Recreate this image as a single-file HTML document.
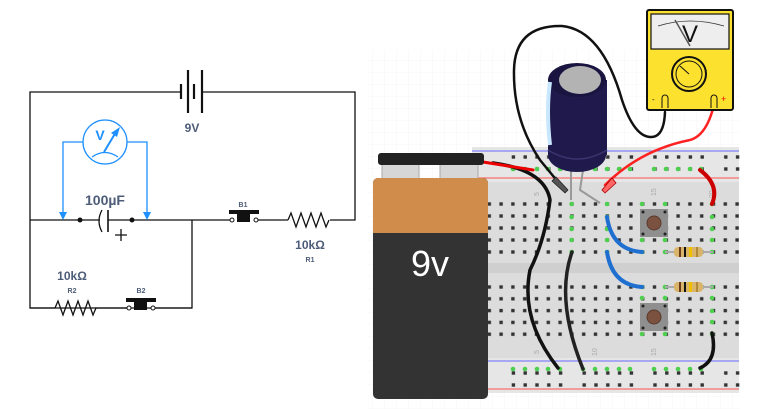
<!DOCTYPE html>
<html><head><meta charset="utf-8"><style>
html,body{margin:0;padding:0;background:#fff;}
svg{display:block;}
text{font-family:"Liberation Sans","DejaVu Sans",sans-serif;}
</style></head><body>
<svg width="763" height="409" viewBox="0 0 763 409" xmlns="http://www.w3.org/2000/svg">
<defs>
<pattern id="grid" x="0" y="0" width="12" height="12" patternUnits="userSpaceOnUse">
<path d="M12 0H0V12" fill="none" stroke="#f0f0f0" stroke-width="0.6"/>
</pattern>
<pattern id="holes" x="483.4" y="198" width="11.8" height="12" patternUnits="userSpaceOnUse">
<rect x="4.2" y="4.3" width="3.4" height="3.4" fill="#333"/>
</pattern>
<pattern id="holes2" x="483.4" y="281" width="11.8" height="11.8" patternUnits="userSpaceOnUse">
<rect x="4.2" y="4.3" width="3.4" height="3.4" fill="#333"/>
</pattern>
<pattern id="rail" x="507.5" y="151" width="70.8" height="12" patternUnits="userSpaceOnUse">
<rect x="4.2" y="4.3" width="3.4" height="3.4" fill="#333"/><rect x="16" y="4.3" width="3.4" height="3.4" fill="#333"/><rect x="27.8" y="4.3" width="3.4" height="3.4" fill="#333"/><rect x="39.6" y="4.3" width="3.4" height="3.4" fill="#333"/><rect x="51.4" y="4.3" width="3.4" height="3.4" fill="#333"/>
</pattern>
</defs>

<!-- ===== Schematic ===== -->
<g fill="none" stroke="#111" stroke-width="1.3">
<path d="M181 92H30V308H192V220"/>
<path d="M202 92H355V220H330"/>
<path d="M30 220H80M132 220H230M258 220H288"/>
<path d="M55 308H30M95 308H127M155 308H192"/>
<path d="M288 220l3 -7 5 14 5 -14 5 14 5 -14 5 14 5 -14 5 14 3 -7" />
<path d="M55 308l3 -7 5 14 5 -14 5 14 5 -14 5 14 5 -14 5 14 3 -7" />
<path d="M80 220H100M108 220H132"/>
<path d="M102 210Q96 221 102 232"/>
<path d="M108 210V232" stroke-width="1.6"/>
<path d="M115 235H127M121 229V241"/>
</g>
<g stroke="#111" stroke-linecap="butt">
<line x1="181" y1="84" x2="181" y2="99" stroke-width="2.2"/>
<line x1="188" y1="70" x2="188" y2="113" stroke-width="2.2"/>
<line x1="194" y1="84" x2="194" y2="99" stroke-width="2.2"/>
<line x1="202" y1="70" x2="202" y2="113" stroke-width="2.2"/>
</g>
<circle cx="80" cy="220" r="2.5" fill="#111"/>
<circle cx="132" cy="220" r="2.5" fill="#111"/>
<g>
<rect x="229" y="210" width="30" height="4" fill="#111"/>
<rect x="237" y="212" width="13" height="10" fill="#111"/>
<circle cx="232" cy="220" r="2" fill="#fff" stroke="#111" stroke-width="1"/>
<circle cx="256" cy="220" r="2" fill="#fff" stroke="#111" stroke-width="1"/>
</g>
<g>
<rect x="126" y="298" width="30" height="4" fill="#111"/>
<rect x="134" y="300" width="13" height="10" fill="#111"/>
<circle cx="129" cy="308" r="2" fill="#fff" stroke="#111" stroke-width="1"/>
<circle cx="153" cy="308" r="2" fill="#fff" stroke="#111" stroke-width="1"/>
</g>
<g stroke="#1e90ff" fill="none" stroke-width="1.3">
<circle cx="105" cy="142" r="22" fill="#fff"/>
<path d="M83 142H63V213M127 142H147V213"/>
<path d="M92 157Q105 148 118 157"/>
<path d="M104 152L116 132" stroke-width="2"/>
</g>
<path d="M120 127L117 137 111 133Z" fill="#1e90ff"/>
<path d="M59 212H67L63 220Z M143 212H151L147 220Z" fill="#1e90ff"/>
<text x="100" y="140" font-size="14" font-weight="bold" fill="#1e90ff" text-anchor="middle">V</text>
<g fill="#4d5c78" font-weight="bold" text-anchor="middle">
<text x="192" y="132" font-size="12">9V</text>
<text x="105" y="205" font-size="14">100µF</text>
<text x="243" y="207" font-size="7">B1</text>
<text x="310" y="249" font-size="12">10kΩ</text>
<text x="310" y="262" font-size="7">R1</text>
<text x="72" y="280" font-size="12">10kΩ</text>
<text x="72" y="293" font-size="7">R2</text>
<text x="141" y="293" font-size="7">B2</text>
</g>

<!-- ===== Breadboard area ===== -->
<rect x="368" y="50" width="372" height="359" fill="url(#grid)"/>
<rect x="472" y="147" width="267" height="246" fill="#dcdcdc"/>
<rect x="472" y="147" width="267" height="35" fill="#e6e6e6"/>
<rect x="472" y="358" width="267" height="35" fill="#e6e6e6"/>
<rect x="472" y="263" width="267" height="10" fill="#cfcfcf"/>
<line x1="472" y1="151" x2="739" y2="151" stroke="#6b6bff" stroke-width="1"/>
<line x1="472" y1="178" x2="739" y2="178" stroke="#ff5050" stroke-width="1"/>
<line x1="472" y1="361" x2="739" y2="361" stroke="#6b6bff" stroke-width="1"/>
<line x1="472" y1="389" x2="739" y2="389" stroke="#ff5050" stroke-width="1"/>
<rect x="484" y="198" width="256" height="60" fill="url(#holes)"/>
<rect x="484" y="281" width="256" height="59" fill="url(#holes2)"/>
<rect x="507" y="151" width="233" height="24" fill="url(#rail)"/>
<rect x="507" y="363" width="233" height="24" fill="url(#rail)"/>
<g fill="#aaa" font-size="7">
<text x="0" y="0" transform="translate(539,196) rotate(-90)">5</text>
<text x="0" y="0" transform="translate(656,196) rotate(-90)">15</text>
<text x="0" y="0" transform="translate(714,198) rotate(-90)">20</text>
<text x="0" y="0" transform="translate(539,354) rotate(-90)">5</text>
<text x="0" y="0" transform="translate(597,356) rotate(-90)">10</text>
<text x="0" y="0" transform="translate(656,356) rotate(-90)">15</text>
</g>
<g fill="#4fcf4f">
<circle cx="571.6" cy="204" r="2.3"/><circle cx="571.6" cy="217" r="2.3"/><circle cx="571.6" cy="229" r="2.3"/><circle cx="571.6" cy="240" r="2.3"/><circle cx="571.6" cy="252" r="2.3"/>
<circle cx="607" cy="204" r="2.3"/><circle cx="607" cy="217" r="2.3"/><circle cx="607" cy="229" r="2.3"/><circle cx="607" cy="240" r="2.3"/><circle cx="607" cy="252" r="2.3"/>
<circle cx="712" cy="204" r="2.3"/><circle cx="712" cy="217" r="2.3"/><circle cx="712" cy="229" r="2.3"/><circle cx="712" cy="240" r="2.3"/><circle cx="712" cy="252" r="2.3"/>
<circle cx="712" cy="287" r="2.3"/><circle cx="712" cy="298" r="2.3"/><circle cx="712" cy="311" r="2.3"/><circle cx="712" cy="322" r="2.3"/><circle cx="712" cy="334" r="2.3"/>
<circle cx="642" cy="204" r="2.3"/><circle cx="665" cy="204" r="2.3"/><circle cx="642" cy="240" r="2.3"/><circle cx="665" cy="240" r="2.3"/>
<circle cx="642" cy="252" r="2.3"/><circle cx="665" cy="252" r="2.3"/><circle cx="642" cy="287" r="2.3"/><circle cx="665" cy="287" r="2.3"/>
<circle cx="642" cy="298" r="2.3"/><circle cx="665" cy="298" r="2.3"/><circle cx="642" cy="334" r="2.3"/><circle cx="665" cy="334" r="2.3"/>
<circle cx="513" cy="169" r="2.3"/><circle cx="525" cy="169" r="2.3"/><circle cx="537" cy="169" r="2.3"/><circle cx="548" cy="169" r="2.3"/><circle cx="560" cy="169" r="2.3"/>
<circle cx="583" cy="169" r="2.3"/><circle cx="595" cy="169" r="2.3"/><circle cx="607" cy="169" r="2.3"/><circle cx="619" cy="169" r="2.3"/><circle cx="630" cy="169" r="2.3"/>
<circle cx="654" cy="169" r="2.3"/><circle cx="666" cy="169" r="2.3"/><circle cx="678" cy="169" r="2.3"/><circle cx="690" cy="169" r="2.3"/><circle cx="701" cy="169" r="2.3"/>
<circle cx="513" cy="369" r="2.3"/><circle cx="525" cy="369" r="2.3"/><circle cx="537" cy="369" r="2.3"/><circle cx="548" cy="369" r="2.3"/><circle cx="560" cy="369" r="2.3"/>
<circle cx="583" cy="369" r="2.3"/><circle cx="595" cy="369" r="2.3"/><circle cx="607" cy="369" r="2.3"/><circle cx="619" cy="369" r="2.3"/><circle cx="630" cy="369" r="2.3"/>
<circle cx="654" cy="369" r="2.3"/><circle cx="666" cy="369" r="2.3"/><circle cx="678" cy="369" r="2.3"/><circle cx="690" cy="369" r="2.3"/><circle cx="701" cy="369" r="2.3"/>
</g>
<g>
<rect x="640" y="209" width="28" height="28" fill="#8f8f8f"/>
<circle cx="654" cy="223" r="7" fill="#7b5140" stroke="#5a3a2e"/>
<rect x="640" y="303" width="28" height="28" fill="#8f8f8f"/>
<circle cx="654" cy="317" r="7" fill="#7b5140" stroke="#5a3a2e"/>
<g fill="#222"><circle cx="643" cy="212" r="1.5"/><circle cx="665" cy="212" r="1.5"/><circle cx="643" cy="234" r="1.5"/><circle cx="665" cy="234" r="1.5"/>
<circle cx="643" cy="306" r="1.5"/><circle cx="665" cy="306" r="1.5"/><circle cx="643" cy="328" r="1.5"/><circle cx="665" cy="328" r="1.5"/></g>
</g>
<g>
<line x1="665" y1="252" x2="713" y2="252" stroke="#aaa" stroke-width="2"/>
<rect x="674" y="247" width="29" height="10" rx="4" fill="#d8b56a"/>
<rect x="679" y="247" width="2" height="10" fill="#6b3a1a"/><rect x="684" y="247" width="2" height="10" fill="#111"/><rect x="689" y="247" width="3" height="10" fill="#f0c000"/><rect x="696" y="247" width="2" height="10" fill="#b08a3a"/>
<line x1="665" y1="287" x2="713" y2="287" stroke="#aaa" stroke-width="2"/>
<rect x="674" y="282" width="29" height="10" rx="4" fill="#d8b56a"/>
<rect x="679" y="282" width="2" height="10" fill="#6b3a1a"/><rect x="684" y="282" width="2" height="10" fill="#111"/><rect x="689" y="282" width="3" height="10" fill="#f0c000"/><rect x="696" y="282" width="2" height="10" fill="#b08a3a"/>
</g>
<g fill="none" stroke-linecap="round">
<path d="M607 217Q612 250 642 252" stroke="#1f6fd0" stroke-width="4"/>
<path d="M607 252Q612 285 642 287" stroke="#1f6fd0" stroke-width="4"/>
<path d="M700 170Q720 185 712 204" stroke="#c00" stroke-width="4"/>
<path d="M712 333Q718 360 700 368" stroke="#111" stroke-width="3.5"/>
<path d="M572 252Q555 300 583 369" stroke="#222" stroke-width="3.5"/>
<path d="M493 163Q545 170 550 200Q545 240 530 270Q520 320 558 368" stroke="#111" stroke-width="3.5"/>
<path d="M483 162L533 170" stroke="#e00" stroke-width="3"/>
</g>
<g>
<path d="M571 170V200M583 170L580 190 600 203" fill="none" stroke="#999" stroke-width="2"/>
<rect x="548" y="80" width="59" height="75" fill="#1f1a4b"/>
<ellipse cx="577" cy="155" rx="29" ry="17" fill="#1f1a4b"/>
<path d="M548 150Q577 168 607 150" fill="none" stroke="#3a3470" stroke-width="1.5"/>
<ellipse cx="577" cy="80" rx="29" ry="17" fill="#1a1540"/>
<ellipse cx="580" cy="80" rx="21" ry="14" fill="#b3b3b3"/>
<path d="M550 82Q546 110 550 145" stroke="#c9e6ff" stroke-width="4" fill="none"/>
</g>
<g fill="none" stroke-linecap="round">
<path d="M665 112Q664 138 650 137Q634 136 622 100Q602 30 562 26Q515 25 514 70Q513 120 540 160L563 188" stroke="#111" stroke-width="2.5"/>
<path d="M715 100Q708 135 690 140Q640 150 605 185" stroke="#f22" stroke-width="2.5"/>
</g>
<path d="M556 177l12 13-3 3-13-12z" fill="#555" stroke="#222" stroke-width="0.8"/>
<path d="M612 178l-10 12 3 3 11-10z" fill="#f66" stroke="#a00" stroke-width="0.8"/>
<g>
<rect x="647" y="10" width="86" height="100" rx="2" fill="#fde12f" stroke="#111" stroke-width="2"/>
<rect x="651" y="14" width="78" height="35" fill="#eee" stroke="#111" stroke-width="1.2"/>
<path d="M658 26Q690 16 724 26" fill="none" stroke="#333" stroke-width="0.8"/>
<line x1="675" y1="20" x2="690" y2="46" stroke="#555" stroke-width="1.5"/>
<text x="690" y="42" font-size="24" fill="#111" text-anchor="middle">V</text>
<circle cx="689" cy="74" r="17" fill="#fde12f" stroke="#111" stroke-width="2"/>
<circle cx="689" cy="74" r="13" fill="none" stroke="#111" stroke-width="1"/>
<line x1="680" y1="66" x2="689" y2="74" stroke="#111" stroke-width="1"/>
<path d="M662 108V98a3 3 0 0 1 6 0V108M711 108V98a3 3 0 0 1 6 0V108" fill="#fde12f" stroke="#111" stroke-width="1"/>
<text x="652" y="102" font-size="8" fill="#111">-</text>
<text x="721" y="102" font-size="9" fill="#e00">+</text>
</g>
<g>
<rect x="382" y="164" width="37" height="16" fill="#d6d6d6" stroke="#aaa"/>
<rect x="440" y="164" width="38" height="16" fill="#d6d6d6" stroke="#aaa"/>
<rect x="378" y="153" width="106" height="12" rx="3" fill="#222"/>
<rect x="373" y="178" width="115" height="221" rx="5" fill="#333"/>
<path d="M373 233V183a5 5 0 0 1 5-5H483a5 5 0 0 1 5 5V233Z" fill="#cf8c4a"/>
<text x="430" y="276" font-size="36" fill="#fff" text-anchor="middle">9v</text>
</g>
</svg>
</body></html>
